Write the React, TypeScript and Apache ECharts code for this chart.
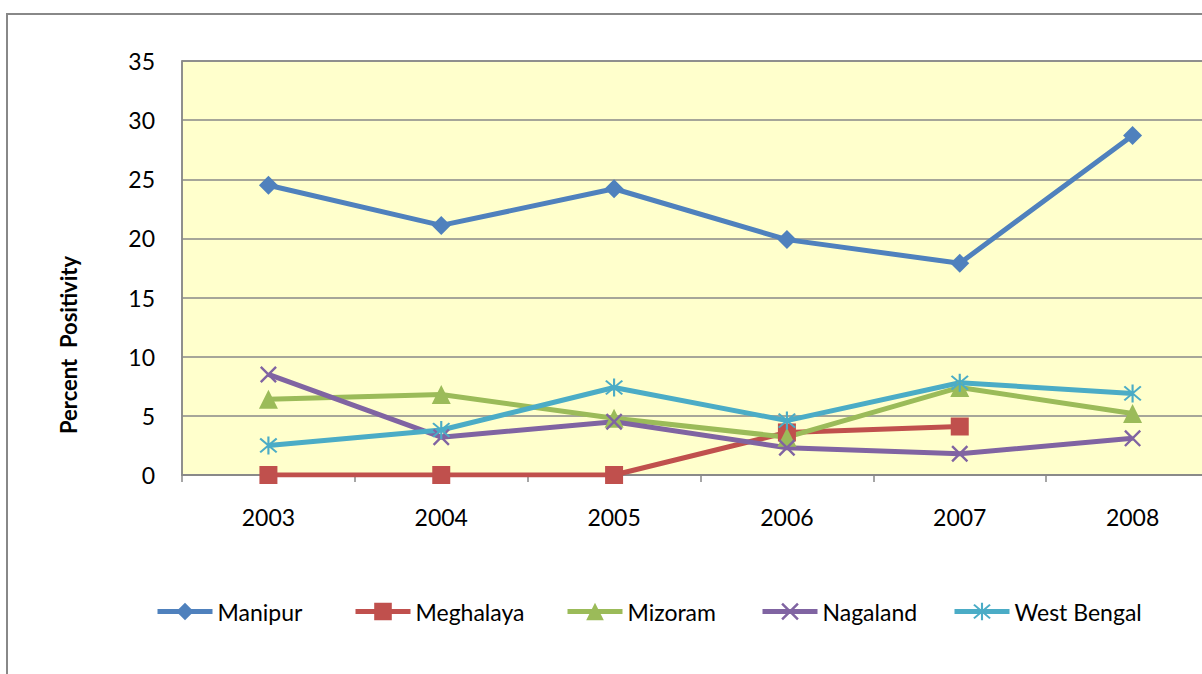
import React, { useEffect, useRef } from "react";
import * as echarts from "echarts";

const years = ["2003", "2004", "2005", "2006", "2007", "2008"];
const manipur = [24.5, 21.1, 24.2, 19.9, 17.9, 28.7];
const meghalaya: (number | null)[] = [0, 0, 0, 3.6, 4.1, null];
const mizoram = [6.4, 6.8, 4.8, 3.2, 7.4, 5.2];
const nagaland = [8.5, 3.2, 4.5, 2.3, 1.8, 3.1];
const westBengal = [2.5, 3.8, 7.4, 4.6, 7.8, 6.9];
const yTicks = { min: 0, max: 35, interval: 5 };

const FONT = "Lato, 'Open Sans', sans-serif";
const CROSS = "path://M0,1 L1,0 L10,9 L9,10 Z M9,0 L10,1 L1,10 L0,9 Z";
const STAR =
  "path://M0.8,1.5 L1.5,0.8 L9.2,8.5 L8.5,9.2 Z M8.5,0.8 L9.2,1.5 L1.5,9.2 L0.8,8.5 Z M4.5,0 L5.5,0 L5.5,10 L4.5,10 Z";

export default function App() {
  const ref = useRef<HTMLDivElement>(null);
  useEffect(() => {
    if (!ref.current) return;
    const chart = echarts.init(ref.current, undefined, { renderer: "svg" });
    const mk = (name: string, data: (number | null)[], color: string, symbol: string, size: number) => ({
      name,
      type: "line",
      data,
      symbol,
      symbolSize: size,
      showSymbol: true,
      connectNulls: false,
      itemStyle: { color },
      lineStyle: { color, width: 5 },
    });
    const legendItem = (name: string, left: number) => ({
      data: [name],
      left,
      top: 600,
      padding: 0,
      itemWidth: 55,
      itemHeight: 22,
      itemGap: 0,
      lineStyle: { width: 5 },
      textStyle: { fontFamily: FONT, fontSize: 23, color: "#000" },
      selectedMode: false,
    });
    chart.setOption({
      animation: false,
      backgroundColor: "#fff",
      grid: { left: 182, top: 61, width: 1037, height: 414, backgroundColor: "#FFFFCC", show: true, borderWidth: 0 },
      graphic: [
        {
          type: "rect",
          shape: { x: 7, y: 14, width: 1300, height: 800 },
          style: { fill: "none", stroke: "#888", lineWidth: 2 },
          z: -1,
        },
        {
          type: "rect",
          shape: { x: 182, y: 61, width: 1037, height: 414 },
          style: { fill: "none", stroke: "#888", lineWidth: 1.5 },
          z: 0,
        },
        {
          type: "text",
          x: 68,
          y: 345,
          rotation: Math.PI / 2,
          style: {
            text: "Percent  Positivity",
            fontFamily: FONT,
            fontWeight: "bold",
            fontSize: 22,
            fill: "#000",
            align: "center",
            verticalAlign: "middle",
          },
        },
      ],
      xAxis: {
        type: "category",
        data: years,
        boundaryGap: true,
        axisLine: { lineStyle: { color: "#888", width: 1.5 } },
        axisTick: { show: true, length: 7, lineStyle: { color: "#888", width: 1.5 } },
        axisLabel: { fontFamily: FONT, fontSize: 23, color: "#000", margin: 30 },
        splitLine: { show: false },
      },
      yAxis: {
        type: "value",
        min: yTicks.min,
        max: yTicks.max,
        interval: yTicks.interval,
        axisLine: { show: true, lineStyle: { color: "#888", width: 1.5 } },
        axisTick: { show: false },
        axisLabel: { fontFamily: FONT, fontSize: 23, color: "#000", margin: 27 },
        splitLine: { lineStyle: { color: "#888", width: 1.5 } },
      },
      legend: [
        legendItem("Manipur", 155),
        legendItem("Meghalaya", 353),
        legendItem("Mizoram", 565),
        legendItem("Nagaland", 760),
        legendItem("West Bengal", 952),
      ],
      series: [
        mk("Manipur", manipur, "#4F81BD", "diamond", 19),
        mk("Meghalaya", meghalaya, "#C0504D", "rect", 18),
        mk("Mizoram", mizoram, "#9BBB59", "triangle", 19),
        mk("Nagaland", nagaland, "#8064A2", CROSS, 17),
        mk("West Bengal", westBengal, "#4BACC6", STAR, 18),
      ],
    });
    return () => chart.dispose();
  }, []);
  return (
    <div style={{ position: "fixed", left: 0, top: 0, width: 1202, height: 674, overflow: "hidden", background: "#fff" }}>
      <div ref={ref} style={{ width: 1260, height: 674 }} />
    </div>
  );
}
